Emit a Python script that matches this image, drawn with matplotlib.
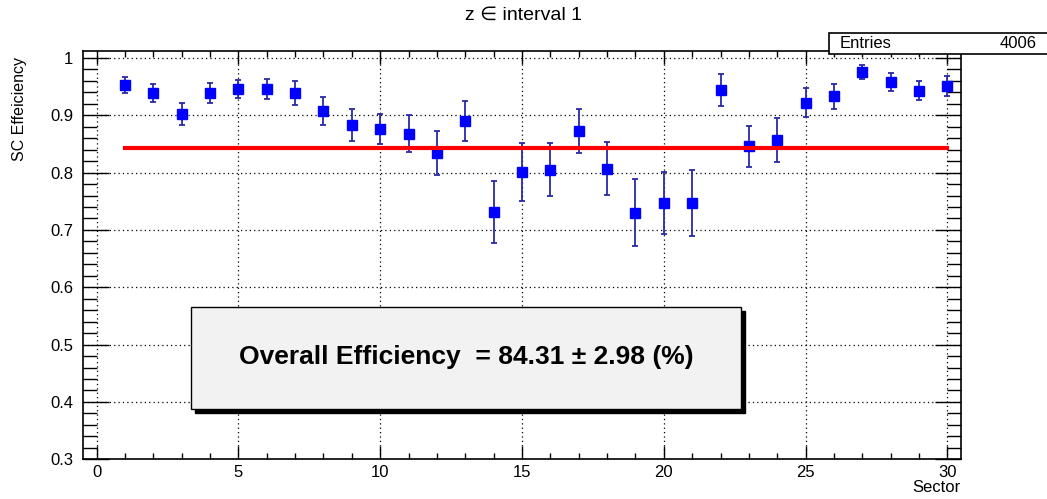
import numpy as np
import matplotlib
matplotlib.use('Agg')
import matplotlib.pyplot as plt
from matplotlib.patches import Rectangle
from matplotlib.ticker import MultipleLocator, FuncFormatter

plt.rcParams['font.family'] = ['Liberation Sans', 'DejaVu Sans']

# efficiency per sector
sector = np.arange(1, 31)
eff = [0.953, 0.939, 0.902, 0.939, 0.946, 0.946, 0.939, 0.907, 0.883, 0.876,
       0.868, 0.834, 0.890, 0.732, 0.801, 0.805, 0.873, 0.807, 0.730, 0.747,
       0.747, 0.944, 0.846, 0.857, 0.922, 0.933, 0.975, 0.958, 0.943, 0.951]
err = [0.014, 0.016, 0.019, 0.017, 0.016, 0.017, 0.021, 0.024, 0.028, 0.027,
       0.032, 0.038, 0.035, 0.054, 0.051, 0.046, 0.038, 0.046, 0.058, 0.054,
       0.057, 0.028, 0.036, 0.038, 0.025, 0.022, 0.0125, 0.016, 0.016, 0.017]
overall = 0.8431
overall_err = 2.98
entries = 4006

W, H = 1047, 499
fig = plt.figure(figsize=(W / 100, H / 100), dpi=100)
ax = fig.add_axes([83 / W, 1 - 459.3 / H, (961 - 83) / W, (459.3 - 51) / H])

ax.errorbar(sector, eff, yerr=err, fmt='none', ecolor='#2a2aa8', elinewidth=1.3,
            capsize=2.5, capthick=1.3, zorder=3)
ax.plot(sector, eff, 's', color='#0000ff', markersize=7.5, zorder=4)
ax.plot([sector[0], sector[-1]], [overall, overall], color='#ff0000', lw=3, zorder=5)

ax.set_xlim(-0.48, 30.48)
ax.set_ylim(0.3, 1.012)
ax.xaxis.set_major_locator(MultipleLocator(5))
ax.xaxis.set_minor_locator(MultipleLocator(1))
ax.yaxis.set_major_locator(MultipleLocator(0.1))
ax.yaxis.set_minor_locator(MultipleLocator(0.02))
ax.yaxis.set_major_formatter(FuncFormatter(lambda v, p: '%g' % round(v, 2)))
ax.grid(True, which='major', color='black', linestyle=(0, (1, 2.5)), lw=0.9)

ax.tick_params(axis='x', which='major', direction='in', length=9.5, width=1,
               top=True, labelsize=12, pad=4)
ax.tick_params(axis='x', which='minor', direction='in', length=4.5, width=1, top=True)
ax.tick_params(axis='y', which='major', direction='in', length=19, width=1,
               right=True, labelsize=12, pad=7)
ax.tick_params(axis='y', which='minor', direction='in', length=10, width=1, right=True)
for s in ax.spines.values():
    s.set_linewidth(1.2)

fig.text(961 / W, 1 - 488 / H, 'Sector', ha='right', va='center', fontsize=12)
fig.text(20 / W, 1 - 57 / H, 'SC Effeiciency', ha='center', va='top',
         rotation=90, fontsize=11.5)
fig.text(0.5, 1 - 15 / H, 'z \u2208 interval 1', ha='center', va='center', fontsize=14)

# stats box
fig.patches.append(Rectangle((829 / W, 1 - 54 / H), 0.3, 21.5 / H,
                             transform=fig.transFigure, facecolor='white',
                             edgecolor='black', lw=1.2))
fig.text(840 / W, 1 - 43.5 / H, 'Entries', ha='left', va='center', fontsize=12)
fig.text(1037 / W, 1 - 43.5 / H, str(entries), ha='right', va='center', fontsize=12)

# overall efficiency box with shadow
bx, by, bw, bh = 191 / W, 1 - 409 / H, 550 / W, 102 / H
fig.patches.append(Rectangle((bx + 4 / W, by - 4 / H), bw, bh,
                             transform=fig.transFigure, facecolor='black',
                             edgecolor='black', zorder=6))
fig.patches.append(Rectangle((bx, by), bw, bh, transform=fig.transFigure,
                             facecolor='#f2f2f2', edgecolor='black', lw=1, zorder=7))
fig.text(bx + bw / 2, 1 - 357 / H,
         'Overall Efficiency  = %.2f \u00b1 %.2f (%%)' % (overall * 100, overall_err),
         ha='center', va='center', fontsize=19, fontweight='bold', zorder=8)

fig.savefig('out.png', dpi=100)
